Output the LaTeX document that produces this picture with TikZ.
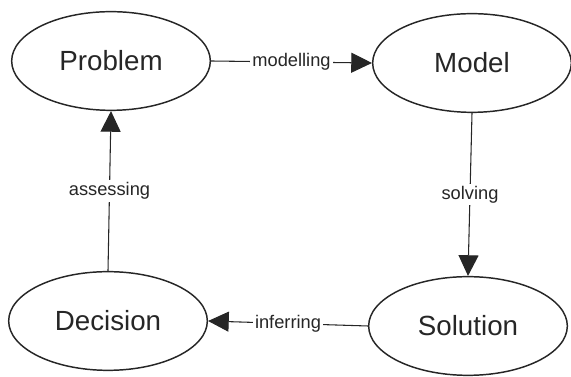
\documentclass[tikz,border=0pt]{standalone}
\usepackage{fontspec}
\setmainfont{Liberation Sans}
\usetikzlibrary{arrows.meta,shapes.geometric}
\definecolor{inkDark}{HTML}{262626}

\begin{document}
\begin{tikzpicture}[x=0.75pt, y=0.75pt, color=inkDark,
    >={Triangle[length=15.5pt,width=15pt]},
    stage/.style={draw, ellipse, line width=1.1pt, minimum width=149pt, minimum height=74pt,
      font=\fontsize{20.8}{24}\selectfont},
    flow/.style={->, line width=0.8pt},
    tag/.style={fill=white, inner sep=1.5pt, font=\fontsize{13.7}{16}\selectfont}]

    \useasboundingbox (0,0) rectangle (571,377);

    % the four stages of the cycle
    \node[stage] (problem)  at (111,316) {Problem};
    \node[stage] (model)    at (472,314) {Model};
    \node[stage] (solution) at (468,51)  {Solution};
    \node[stage] (decision) at (108,56)  {Decision};

    % connectors with their labels on the line
    \draw[flow] (problem.east) -- node[tag] {modelling} (model.west);
    \draw[flow] (model.south) -- node[tag] {solving} (solution.north);
    \draw[flow] (solution.west) -- node[tag] {inferring} (decision.east);
    \draw[flow] (decision.north) -- node[tag] {assessing} (problem.south);

\end{tikzpicture}
\end{document}
